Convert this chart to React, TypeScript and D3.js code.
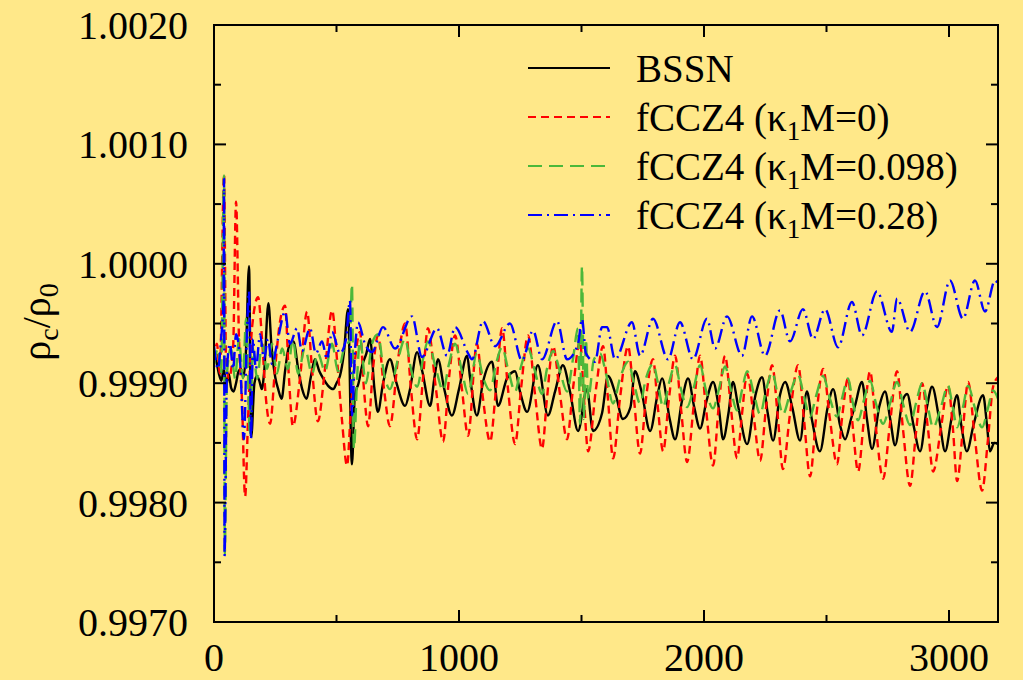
import React from 'react';
import * as d3 from 'd3';

type P = [number, number];

// BSSN (black, solid)
const bssn: P[] = [[0,.99925],[10,.99918],[20,.99908],[30,.99902],[40,.99912],[50,.99898],[60,.99908],[70,.99896],[80,.99893],[90,.999],[100,.9991],[110,.99912],[120,.99905],[130,.99925],[143,.99998],[152,.99855],[165,.999],[175,.99906],[185,.99902],[195,.99895],[205,.9991],[222,.99967],[235,.9993],[250,.99905],[262,.99895],[276,.99887],[290,.9991],[305,.9993],[324,.99935],[345,.9991],[360,.99895],[378,.99887],[395,.99905],[412,.9992],[430,.9991],[446,.99904],[465,.99898],[487,.99895],[500,.999],[514,.99906],[530,.99925],[547,.99962],[563,.99832],[575,.9989],[590,.999],[605,.99915],[622,.99925],[637,.99937],[655,.99895],[669,.99876],[690,.999],[718,.9992],[745,.999],[780,.99881],[800,.99895],[829,.99926],[850,.9991],[882,.99881],[900,.99905],[914,.9992],[940,.99895],[971,.99873],[1000,.99895],[1033,.99923],[1045,.99905],[1073,.99873],[1098,.99901],[1135,.99918],[1159,.99881],[1196,.99904],[1229,.9991],[1249,.99893],[1278,.99876],[1322,.99915],[1363,.99873],[1392,.99893],[1424,.99915],[1453,.99893],[1486,.9986],[1522,.99895],[1547,.9986],[1584,.99875],[1608,.99906],[1640,.9989],[1669,.9987],[1700,.9988],[1718,.9991],[1745,.99893],[1780,.9986],[1810,.9989],[1829,.99904],[1860,.9987],[1882,.99853],[1910,.99885],[1935,.99904],[1960,.9988],[1984,.99862],[2010,.99885],[2037,.99901],[2060,.9988],[2078,.99853],[2100,.99875],[2118,.99901],[2140,.9988],[2176,.99849],[2210,.9989],[2237,.99905],[2260,.99875],[2282,.99852],[2310,.9989],[2331,.99901],[2360,.9988],[2392,.99852],[2420,.99893],[2440,.9987],[2473,.99843],[2505,.9988],[2527,.99895],[2555,.99865],[2576,.99853],[2600,.9987],[2616,.99881],[2645,.99901],[2665,.9987],[2686,.99845],[2715,.9988],[2739,.99893],[2760,.9987],[2780,.99848],[2810,.99885],[2829,.99891],[2855,.99865],[2882,.99843],[2910,.9988],[2931,.99897],[2960,.9987],[2984,.99843],[3010,.9987],[3033,.9989],[3050,.99865],[3073,.99843],[3100,.99865],[3139,.9989],[3155,.99865],[3167,.99843],[3185,.9985],[3200,.99849]];

// fCCZ4 (kappa1 M = 0), red short dashes
const fccz4k0: P[] = [[0,.9992],[12,.99933],[24,.99908],[41,1.00075],[49,.9992],[61,.99904],[78,.99929],[90,1.00052],[102,.99937],[114,.99887],[127,.99805],[139,.9987],[155,.99946],[180,.99972],[196,.99937],[212,.99887],[229,.99866],[249,.99912],[269,.99951],[290,.99965],[306,.99904],[322,.99864],[351,.99904],[380,.9996],[400,.99912],[424,.99868],[453,.99912],[482,.99961],[502,.9992],[522,.9987],[543,.99831],[559,.99879],[576,.9992],[596,.99943],[612,.99895],[629,.99864],[649,.99912],[669,.9994],[694,.99895],[718,.99864],[751,.9992],[780,.9995],[804,.99895],[829,.99853],[853,.99904],[873,.99946],[906,.99895],[935,.99851],[959,.99904],[984,.9994],[1012,.99895],[1037,.99856],[1073,.99933],[1098,.99887],[1127,.99851],[1151,.99895],[1176,.99946],[1200,.99895],[1229,.99849],[1253,.99895],[1282,.9994],[1310,.99891],[1339,.99845],[1359,.99887],[1384,.99931],[1412,.99891],[1441,.99853],[1465,.99895],[1494,.99935],[1510,.99887],[1527,.99843],[1559,.99895],[1588,.99931],[1608,.99887],[1629,.99837],[1657,.99887],[1690,.99931],[1714,.99887],[1739,.99841],[1763,.99887],[1792,.9992],[1812,.99879],[1833,.99843],[1857,.99887],[1882,.99923],[1906,.99879],[1931,.99834],[1959,.99883],[1984,.99923],[2008,.99879],[2037,.99831],[2061,.99883],[2086,.99923],[2110,.99879],[2135,.99837],[2155,.99874],[2176,.99908],[2204,.9987],[2229,.99835],[2253,.99879],[2278,.99915],[2302,.9987],[2322,.99828],[2351,.99874],[2384,.99915],[2408,.9987],[2433,.99822],[2457,.9987],[2486,.99912],[2514,.9987],[2543,.99832],[2563,.9987],[2588,.99904],[2608,.99862],[2629,.99826],[2653,.9987],[2678,.9991],[2702,.99862],[2731,.9982],[2759,.99866],[2788,.9991],[2812,.99862],[2841,.99814],[2865,.99858],[2890,.999],[2914,.99862],[2935,.99826],[2967,.99862],[2996,.99898],[3016,.99862],[3033,.99818],[3057,.99862],[3078,.99901],[3106,.99853],[3135,.9981],[3159,.99853],[3180,.99897],[3200,.99905]];

// fCCZ4 (kappa1 M = 0.098), green long dashes
const fccz4k098: P[] = [[0,.99916],[16,.99929],[29,.99908],[41,1.00074],[44,.99757],[53,.99908],[69,.99929],[86,.99904],[102,.99937],[118,.99904],[131,.99954],[147,.99856],[159,.99929],[176,.99904],[196,.99933],[216,.99912],[237,.99933],[257,.99908],[278,.99929],[302,.99912],[322,.99937],[343,.99908],[371,.99929],[400,.99908],[424,.99925],[453,.9991],[482,.99933],[506,.9991],[531,.99929],[555,.99937],[563,.99983],[571,.99845],[584,.99904],[596,.99937],[620,.999],[645,.99933],[669,.99941],[694,.99908],[718,.99895],[751,.9992],[780,.99937],[804,.99912],[829,.99897],[853,.9992],[873,.99935],[906,.99912],[935,.99894],[959,.99916],[984,.99933],[1012,.9991],[1037,.99891],[1073,.99925],[1098,.99905],[1127,.99894],[1151,.99916],[1176,.9993],[1200,.99912],[1229,.99893],[1253,.99914],[1282,.99929],[1310,.9991],[1339,.99891],[1359,.99912],[1384,.99927],[1412,.9991],[1441,.99893],[1465,.9992],[1486,.99946],[1494,.99866],[1502,.99998],[1510,.9987],[1518,.99937],[1527,.99887],[1551,.9992],[1576,.99925],[1600,.99908],[1629,.99883],[1657,.99904],[1690,.99918],[1714,.999],[1739,.99883],[1763,.99904],[1792,.99916],[1812,.999],[1833,.9988],[1857,.999],[1882,.99915],[1906,.99895],[1931,.9988],[1959,.99897],[1984,.99915],[2008,.99894],[2037,.99879],[2061,.99895],[2086,.99914],[2110,.99894],[2135,.99877],[2155,.99894],[2176,.9991],[2204,.99891],[2229,.99874],[2253,.99894],[2278,.99909],[2302,.99889],[2322,.99874],[2351,.99891],[2384,.99907],[2408,.99889],[2433,.99872],[2457,.99889],[2486,.99906],[2514,.99887],[2543,.99872],[2563,.99887],[2588,.99904],[2608,.99883],[2629,.99869],[2653,.99886],[2678,.99902],[2702,.99883],[2731,.99866],[2759,.99883],[2788,.99901],[2812,.99883],[2841,.99865],[2865,.99883],[2890,.999],[2914,.9988],[2935,.99863],[2967,.9988],[2996,.99898],[3016,.99879],[3033,.99863],[3057,.9988],[3078,.99898],[3106,.99879],[3135,.99863],[3159,.99879],[3180,.99894],[3200,.99887]];

// fCCZ4 (kappa1 M = 0.28), blue dash-dot
const fccz4k028: P[] = [[0,.99931],[16,.99912],[29,.99937],[39,.9997],[41,1.00071],[43,.99755],[53,.99912],[65,.99933],[78,.99912],[90,.99941],[106,.9992],[122,.99853],[135,.99946],[143,.99977],[151,.99853],[159,.99937],[171,.99912],[188,.99941],[204,.9992],[220,.99937],[237,.99916],[261,.99937],[290,.9996],[310,.99933],[339,.99946],[359,.99927],[392,.99946],[416,.99925],[441,.99935],[461,.9992],[482,.99943],[514,.99925],[539,.99937],[555,.99969],[563,.99873],[576,.99929],[588,.99951],[616,.99933],[645,.99926],[690,.99947],[739,.99929],[808,.99956],[849,.99922],[910,.99946],[951,.99923],[984,.99947],[1037,.99925],[1053,.9992],[1098,.99952],[1147,.99931],[1208,.9995],[1257,.99919],[1302,.99944],[1339,.9992],[1400,.99952],[1441,.9992],[1486,.99933],[1502,.99954],[1518,.99925],[1555,.99918],[1584,.99947],[1604,.99947],[1637,.9992],[1706,.99951],[1739,.99923],[1792,.99954],[1853,.9992],[1902,.99951],[1955,.9992],[2012,.99954],[2045,.99929],[2094,.99956],[2155,.99923],[2196,.99956],[2249,.99923],[2310,.99961],[2351,.99935],[2404,.99962],[2445,.99937],[2494,.99962],[2547,.9993],[2604,.99968],[2645,.9994],[2706,.99977],[2767,.99943],[2788,.99971],[2841,.99943],[2902,.99977],[2951,.99947],[3004,.99986],[3057,.99954],[3106,.99986],[3147,.9996],[3188,.99986],[3200,.99983]];

const xTicks = [0, 1000, 2000, 3000];
const xMinorTicks = [500, 1500, 2500];
const yTicks = [0.997, 0.998, 0.999, 1.0, 1.001, 1.002];
const yTickLabels = ['0.9970', '0.9980', '0.9990', '1.0000', '1.0010', '1.0020'];
const yMinorTicks = [0.9975, 0.9985, 0.9995, 1.0005, 1.0015];

const FONT = "'Liberation Serif', 'DejaVu Serif', 'Times New Roman', serif";

const series = [
  { name: 'BSSN', data: bssn, color: '#000000', dash: '', pre: 'BSSN', sub: '', post: '' },
  { name: 'k0', data: fccz4k0, color: '#ff0000', dash: '8,5', pre: 'fCCZ4 (κ', sub: '1', post: 'M=0)' },
  { name: 'k098', data: fccz4k098, color: '#4cb83a', dash: '14,7', pre: 'fCCZ4 (κ', sub: '1', post: 'M=0.098)' },
  { name: 'k028', data: fccz4k028, color: '#0000ff', dash: '14,5,2,5', pre: 'fCCZ4 (κ', sub: '1', post: 'M=0.28)' },
];

export default function App() {
  const W = 1023, H = 680;
  const L = 214, R = 998, T = 25, B = 622;
  const x = d3.scaleLinear().domain([0, 3200]).range([L, R]);
  const y = d3.scaleLinear().domain([0.997, 1.002]).range([B, T]);
  const line = d3.line<P>().x(d => x(d[0])).y(d => y(d[1])).curve(d3.curveMonotoneX);
  const major = 12, minor = 7;

  return (
    <svg width={W} height={H} style={{ position: 'fixed', left: 0, top: 0, display: 'block' }} fontFamily={FONT}>
      <rect x={0} y={0} width={W} height={H} fill="#ffe889" />
      <defs>
        <clipPath id="plotclip"><rect x={L} y={T} width={R - L} height={B - T} /></clipPath>
      </defs>
      <g clipPath="url(#plotclip)">
        {series.map(s => (
          <path key={s.name} d={line(s.data) || ''} fill="none" stroke={s.color} strokeWidth={2.4}
            strokeDasharray={s.dash || undefined} strokeLinejoin="round" />
        ))}
      </g>
      {/* frame */}
      <rect x={L} y={T} width={R - L} height={B - T} fill="none" stroke="#000" strokeWidth={2} />
      {/* x ticks */}
      {xTicks.map(t => (
        <g key={'xt' + t}>
          <line x1={x(t)} x2={x(t)} y1={B} y2={B - major} stroke="#000" strokeWidth={2} />
          <line x1={x(t)} x2={x(t)} y1={T} y2={T + major} stroke="#000" strokeWidth={2} />
          <text x={x(t)} y={671} fontSize={40} textAnchor="middle" fill="#000">{t}</text>
        </g>
      ))}
      {xMinorTicks.map(t => (
        <g key={'xm' + t}>
          <line x1={x(t)} x2={x(t)} y1={B} y2={B - minor} stroke="#000" strokeWidth={2} />
          <line x1={x(t)} x2={x(t)} y1={T} y2={T + minor} stroke="#000" strokeWidth={2} />
        </g>
      ))}
      {/* y ticks */}
      {yTicks.map((t, i) => (
        <g key={'yt' + t}>
          <line x1={L} x2={L + major} y1={y(t)} y2={y(t)} stroke="#000" strokeWidth={2} />
          <line x1={R} x2={R - major} y1={y(t)} y2={y(t)} stroke="#000" strokeWidth={2} />
          <text x={188} y={y(t)} dy="0.35em" fontSize={40} textAnchor="end" fill="#000">{yTickLabels[i]}</text>
        </g>
      ))}
      {yMinorTicks.map(t => (
        <g key={'ym' + t}>
          <line x1={L} x2={L + minor} y1={y(t)} y2={y(t)} stroke="#000" strokeWidth={2} />
          <line x1={R} x2={R - minor} y1={y(t)} y2={y(t)} stroke="#000" strokeWidth={2} />
        </g>
      ))}
      {/* y axis label */}
      <text transform="translate(50,322) rotate(-90)" fontSize={40} textAnchor="middle" fill="#000">
        <tspan>ρ</tspan><tspan fontSize={28} dy={8}>c</tspan><tspan dy={-8}>/ρ</tspan><tspan fontSize={28} dy={8}>0</tspan>
      </text>
      {/* legend */}
      {series.map((s, i) => {
        const ly = 68 + i * 49;
        return (
          <g key={'lg' + s.name}>
            <line x1={528} x2={610} y1={ly} y2={ly} stroke={s.color} strokeWidth={2}
              strokeDasharray={s.dash || undefined} />
            <text x={636} y={ly + 14} fontSize={39} fill="#000">
              <tspan>{s.pre}</tspan>
              {s.sub ? <tspan fontSize={27} dy={9}>{s.sub}</tspan> : null}
              {s.sub ? <tspan dy={-9}>{s.post}</tspan> : null}
            </text>
          </g>
        );
      })}
    </svg>
  );
}
